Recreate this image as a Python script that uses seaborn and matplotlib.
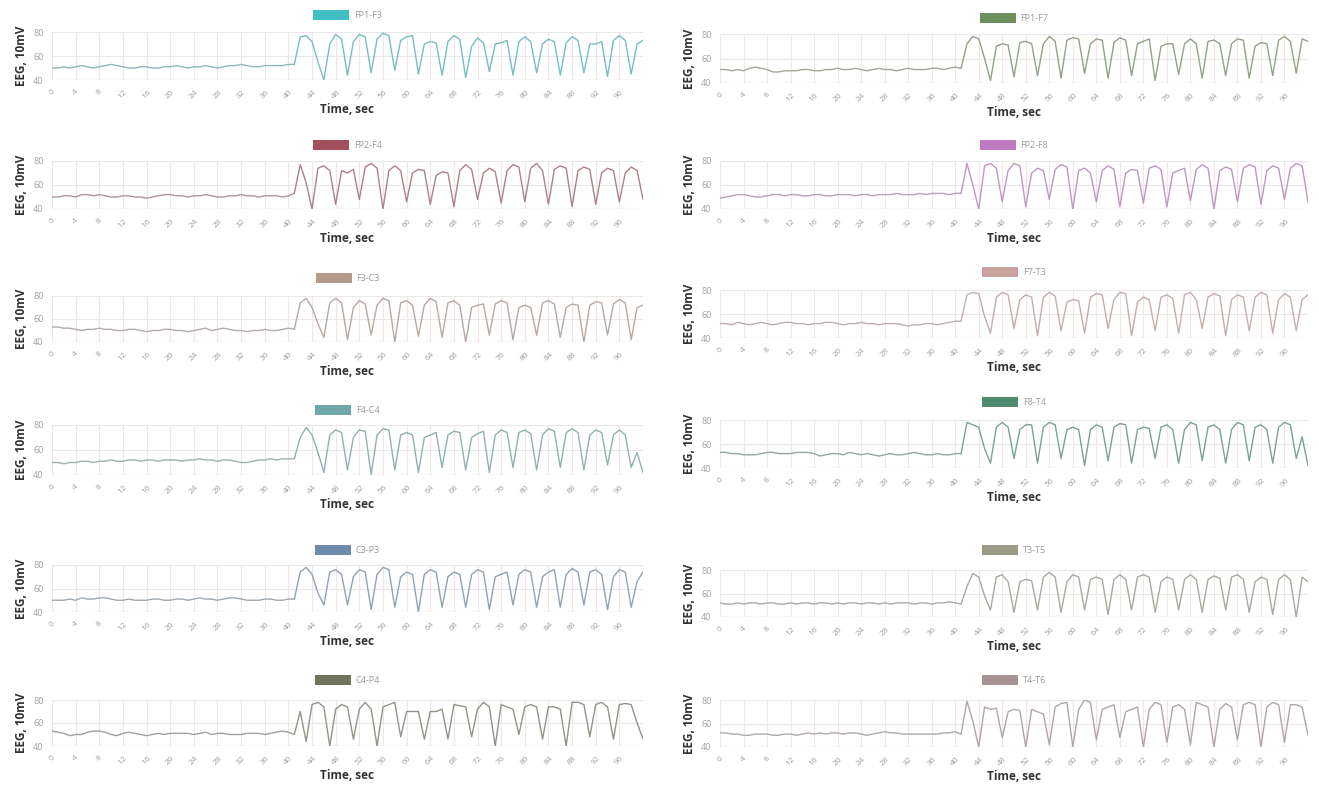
import numpy as np
import matplotlib.pyplot as plt
import seaborn as sns
from matplotlib.colors import to_rgb
from matplotlib.patches import Patch

sns.set_style("white")
plt.rcParams['font.family'] = ['Open Sans', 'DejaVu Sans']

# channel names, in grid order (row by row, left then right)
channels = ["FP1-F3", "FP1-F7", "FP2-F4", "FP2-F8", "F3-C3", "F7-T3",
            "F4-C4", "F8-T4", "C3-P3", "T3-T5", "C4-P4", "T4-T6"]
colors = ["#3fbfc4", "#6d8f5e", "#a2505e", "#c07ac2", "#b39a8a", "#c9a39c",
          "#6fa6a8", "#4d8a6e", "#6d8cab", "#9a9a86", "#71735c", "#a89494"]

onset = 42  # sample where the seizure burst starts
x_ticks = list(range(0, 100, 4))
y_ticks = [40, 60, 80]

# EEG values, samples 0..100
fp1_f3 = [50, 50, 51, 50, 51, 52, 51, 50, 51, 52, 53, 52, 51, 50, 50, 51, 51, 50, 50, 51,
          51, 52, 51, 50, 51, 51, 52, 51, 50, 51, 52, 52, 53, 52, 51, 51, 52, 52, 52, 52,
          53, 53,
          76, 77, 72, 55,
          40, 70, 78, 74, 44, 72, 78, 76, 46, 74, 79, 77, 48, 73, 76, 77, 45, 70, 72, 71,
          44, 72, 77, 74, 42, 68, 75, 71, 47, 70, 71, 73, 44, 72, 76, 72, 46, 70, 74, 72,
          44, 71, 76, 73, 46, 70, 70, 72, 43, 73, 77, 73,
          45, 70, 73]
fp1_f7 = [51, 51, 50, 51, 50, 52, 53, 52, 51, 49, 49, 50, 50, 50, 51, 51, 50, 50, 51, 51,
          52, 51, 51, 52, 51, 50, 51, 52, 51, 51, 50, 51, 52, 51, 51, 51, 52, 52, 51, 52,
          53, 52,
          72, 78, 76, 60,
          42, 70, 72, 71, 45, 73, 74, 72, 46, 72, 78, 74, 44, 75, 77, 76, 48, 72, 76, 75,
          44, 73, 77, 75, 46, 72, 74, 76, 42, 70, 72, 72, 47, 72, 76, 72, 44, 74, 75, 72,
          46, 72, 76, 75, 44, 70, 73, 72, 46, 75, 78, 74,
          48, 76, 74]
fp2_f4 = [50, 50, 51, 51, 50, 52, 52, 51, 52, 51, 50, 50, 51, 51, 50, 50, 49, 50, 51, 52,
          52, 51, 51, 50, 51, 51, 52, 51, 50, 50, 51, 51, 52, 51, 51, 50, 51, 51, 51, 50,
          51, 53,
          77, 62,
          40, 74, 76, 72, 44, 72, 70, 73, 48, 75, 78, 74, 40, 72, 76, 72, 46, 70, 73, 72,
          44, 68, 71, 70, 42, 72, 77, 73, 48, 70, 74, 71, 45, 72, 77, 75, 46, 74, 78, 72,
          44, 73, 76, 74, 42, 72, 75, 73, 44, 70, 74, 72, 46, 70, 75, 72,
          48]
fp2_f8 = [49, 50, 51, 52, 52, 51, 50, 50, 51, 52, 52, 51, 52, 52, 51, 51, 52, 52, 51, 51,
          52, 52, 52, 51, 52, 52, 51, 52, 52, 52, 53, 52, 52, 52, 53, 52, 53, 53, 53, 52,
          53, 53,
          78, 60,
          40, 76, 78, 74, 46, 72, 78, 76, 42, 70, 74, 72, 48, 73, 77, 75, 40, 72, 74, 70,
          46, 72, 76, 73, 42, 70, 73, 72, 45, 74, 76, 73, 42, 70, 72, 74, 47, 73, 77, 74,
          40, 72, 75, 73, 46, 74, 77, 75, 44, 72, 76, 74, 48, 74, 78, 76,
          46]
f3_c3 = [53, 53, 52, 52, 51, 50, 51, 51, 52, 51, 51, 50, 50, 51, 51, 50, 49, 50, 50, 51,
         51, 50, 50, 49, 50, 51, 52, 50, 51, 52, 51, 50, 50, 49, 50, 50, 51, 50, 50, 51,
         52, 51,
         74, 78, 70, 56,
         44, 74, 78, 74, 42, 70, 76, 73, 46, 72, 78, 76, 40, 74, 76, 72, 45, 72, 78, 75,
         44, 74, 76, 72, 40, 70, 72, 73, 46, 73, 76, 74, 42, 70, 72, 70, 46, 74, 76, 73,
         44, 70, 73, 72, 40, 72, 75, 74, 46, 73, 77, 74,
         42, 70, 72]
f7_t3 = [52, 52, 51, 53, 52, 51, 52, 53, 52, 51, 52, 53, 53, 52, 52, 51, 52, 52, 53, 53,
         52, 51, 52, 52, 53, 52, 52, 51, 52, 52, 52, 51, 50, 51, 51, 52, 52, 51, 52, 53,
         54, 54,
         76, 78, 77, 58,
         44, 74, 78, 76, 48, 72, 76, 74, 42, 74, 78, 75, 46, 70, 72, 71, 44, 74, 77, 76,
         48, 72, 78, 77, 42, 70, 74, 72, 46, 74, 76, 73, 44, 76, 78, 72, 48, 74, 77, 75,
         42, 72, 76, 74, 46, 74, 78, 76, 44, 72, 77, 74,
         46, 72, 76]
f4_c4 = [50, 50, 49, 50, 50, 51, 51, 50, 51, 51, 52, 51, 51, 52, 52, 51, 52, 52, 51, 52,
         52, 52, 51, 52, 52, 53, 52, 52, 51, 52, 52, 51, 50, 50, 51, 52, 52, 53, 52, 53,
         53, 53,
         70, 78, 72, 58,
         42, 72, 76, 74, 44, 70, 76, 75, 40, 72, 77, 76, 44, 72, 74, 72, 42, 70, 72, 74,
         46, 72, 75, 74, 44, 70, 73, 75, 42, 72, 76, 74, 46, 74, 76, 73, 44, 72, 77, 75,
         46, 74, 77, 74, 44, 72, 76, 74, 48, 72, 76, 72,
         46, 58, 42]
f8_t4 = [53, 53, 52, 52, 51, 51, 51, 52, 53, 53, 52, 52, 52, 53, 53, 53, 52, 50, 51, 52,
         52, 51, 53, 52, 51, 52, 51, 50, 51, 52, 51, 51, 52, 53, 52, 51, 51, 52, 51, 51,
         52, 52,
         78, 76, 74, 56,
         44, 74, 78, 74, 48, 72, 76, 76, 44, 74, 78, 76, 48, 72, 74, 72, 42, 72, 76, 74,
         46, 74, 77, 76, 44, 72, 74, 73, 48, 74, 76, 72, 44, 72, 78, 76, 46, 74, 76, 72,
         44, 72, 78, 76, 46, 74, 76, 72, 44, 74, 78, 76,
         48, 66, 42]
c3_p3 = [50, 50, 50, 51, 50, 52, 51, 51, 52, 52, 51, 50, 50, 51, 50, 50, 50, 51, 51, 50,
         50, 51, 51, 50, 51, 52, 51, 51, 50, 51, 52, 52, 51, 50, 50, 50, 51, 51, 50, 50,
         51, 51,
         74, 78, 72, 56,
         46, 74, 76, 72, 46, 70, 76, 74, 42, 72, 78, 76, 44, 70, 74, 72, 40, 72, 76, 74,
         44, 70, 74, 72, 44, 72, 76, 74, 42, 70, 72, 74, 46, 72, 76, 74, 44, 70, 74, 76,
         44, 72, 77, 74, 46, 74, 76, 72, 42, 70, 76, 74,
         44, 66, 74]
t3_t5 = [52, 51, 51, 52, 51, 52, 52, 51, 52, 52, 51, 51, 52, 51, 52, 52, 51, 52, 52, 51,
         52, 51, 52, 52, 51, 52, 52, 51, 52, 51, 52, 52, 52, 51, 52, 52, 51, 52, 52, 53,
         52, 51,
         66, 77, 74, 58,
         46, 74, 76, 70, 44, 70, 72, 71, 46, 74, 78, 74, 44, 70, 76, 74, 46, 72, 74, 72,
         42, 72, 76, 72, 46, 74, 76, 74, 44, 70, 74, 72, 46, 72, 76, 72, 44, 72, 75, 73,
         46, 74, 76, 72, 44, 70, 74, 72, 42, 72, 76, 72,
         40, 74, 70]
c4_p4 = [53, 52, 51, 49, 50, 50, 52, 53, 53, 52, 50, 49, 51, 52, 51, 50, 49, 50, 51, 50,
         51, 51, 51, 51, 50, 51, 52, 50, 51, 51, 50, 50, 50, 51, 51, 51, 50, 51, 52, 53,
         52, 50,
         70, 44,
         76, 78, 74, 40, 72, 76, 74, 46, 72, 78, 72, 40, 74, 76, 78, 48, 70, 70, 70, 46,
         70, 70, 72, 46, 76, 75, 74, 48, 72, 78, 74, 40, 76, 74, 72, 50, 74, 76, 74, 46,
         74, 74, 72, 40, 78, 78, 76, 48, 76, 78, 74, 46,
         76, 77, 76, 60, 46]
t4_t6 = [52, 52, 51, 51, 50, 50, 51, 51, 51, 50, 50, 51, 51, 50, 51, 52, 51, 52, 51, 52,
         52, 51, 52, 52, 51, 50, 51, 52, 53, 52, 52, 51, 51, 51, 51, 51, 51, 51, 52, 52,
         53, 51,
         79, 62,
         40, 74, 72, 73, 48, 70, 72, 71, 40, 72, 70, 68, 42, 74, 77, 78, 40, 72, 80, 78,
         46, 72, 74, 76, 48, 70, 72, 74, 40, 72, 78, 76, 44, 74, 76, 72, 42, 78, 76, 74,
         40, 72, 77, 74, 46, 76, 78, 76, 40, 74, 78, 76, 44, 76, 76, 74,
         50]

series = [fp1_f3, fp1_f7, fp2_f4, fp2_f8, f3_c3, f7_t3,
          f4_c4, f8_t4, c3_p3, t3_t5, c4_p4, t4_t6]

# layout in pixels: plot-area top/bottom (y=80 / y=40 lines) and legend centre
W, H = 1319, 796
col_x = [(52, 643), (720, 1308)]
tops = [[32, 161, 296, 425, 565, 700], [34, 161, 290, 420, 570, 700]]
bots = [[80, 209, 342, 475, 612, 746], [83, 209, 338, 468, 617, 747]]
leg_y = [[15, 145, 278, 410, 550, 680], [18, 145, 272, 402, 550, 680]]


def mix(c1, c2, t):
    a, b = np.array(to_rgb(c1)), np.array(to_rgb(c2))
    return tuple(a * t + b * (1 - t))


fig = plt.figure(figsize=(W / 100, H / 100), dpi=100, facecolor="white")

for i, (name, col, vals) in enumerate(zip(channels, colors, series)):
    r, c = divmod(i, 2)
    x0, x1 = col_x[c]
    top, bot = tops[c][r], bots[c][r]
    ax = fig.add_axes([x0 / W, 1 - bot / H, (x1 - x0) / W, (bot - top) / H])
    xs = np.arange(len(vals))
    v = np.array(vals)
    pre_col = mix(col, "#b4b4b4", 0.3)
    post_col = mix(col, "#bcbcbc", 0.55)
    sns.lineplot(x=xs[:onset], y=v[:onset], ax=ax, color=pre_col, lw=1.0)
    sns.lineplot(x=xs[onset - 1:], y=v[onset - 1:], ax=ax, color=post_col, lw=1.0)

    ax.set_xlim(0, len(vals) - 1)
    ax.set_ylim(40, 80)
    ax.set_xticks(x_ticks)
    ax.set_xticklabels([str(t) for t in x_ticks], rotation=45, fontsize=6, color="#a0a0a0")
    ax.set_yticks(y_ticks)
    ax.set_yticklabels([str(t) for t in y_ticks], fontsize=6.5, color="#a0a0a0")
    ax.tick_params(length=0, pad=6)
    ax.grid(axis="x", color="#f3e4e6", lw=0.8)
    ax.grid(axis="y", color="#e8e8e8", lw=0.8)
    ax.axhline(40, color="#d4d4d4", lw=0.9, zorder=0)
    for s in ax.spines.values():
        s.set_visible(False)
    ax.set_xlabel("Time, sec", fontsize=8.5, fontweight="bold", color="#333333", labelpad=2)
    ax.set_ylabel("EEG, 10mV", fontsize=8.5, fontweight="bold", color="#333333", labelpad=4)

    handle = Patch(facecolor=col, edgecolor="none")
    ax.legend([handle], [name], loc="center", frameon=False, fontsize=6.5,
              labelcolor="#999999", handlelength=4, handleheight=1.3, handletextpad=0.5,
              bbox_to_anchor=((x0 + x1) / 2 / W, 1 - leg_y[c][r] / H),
              bbox_transform=fig.transFigure)

fig.savefig("out.png", dpi=100, facecolor="white")
